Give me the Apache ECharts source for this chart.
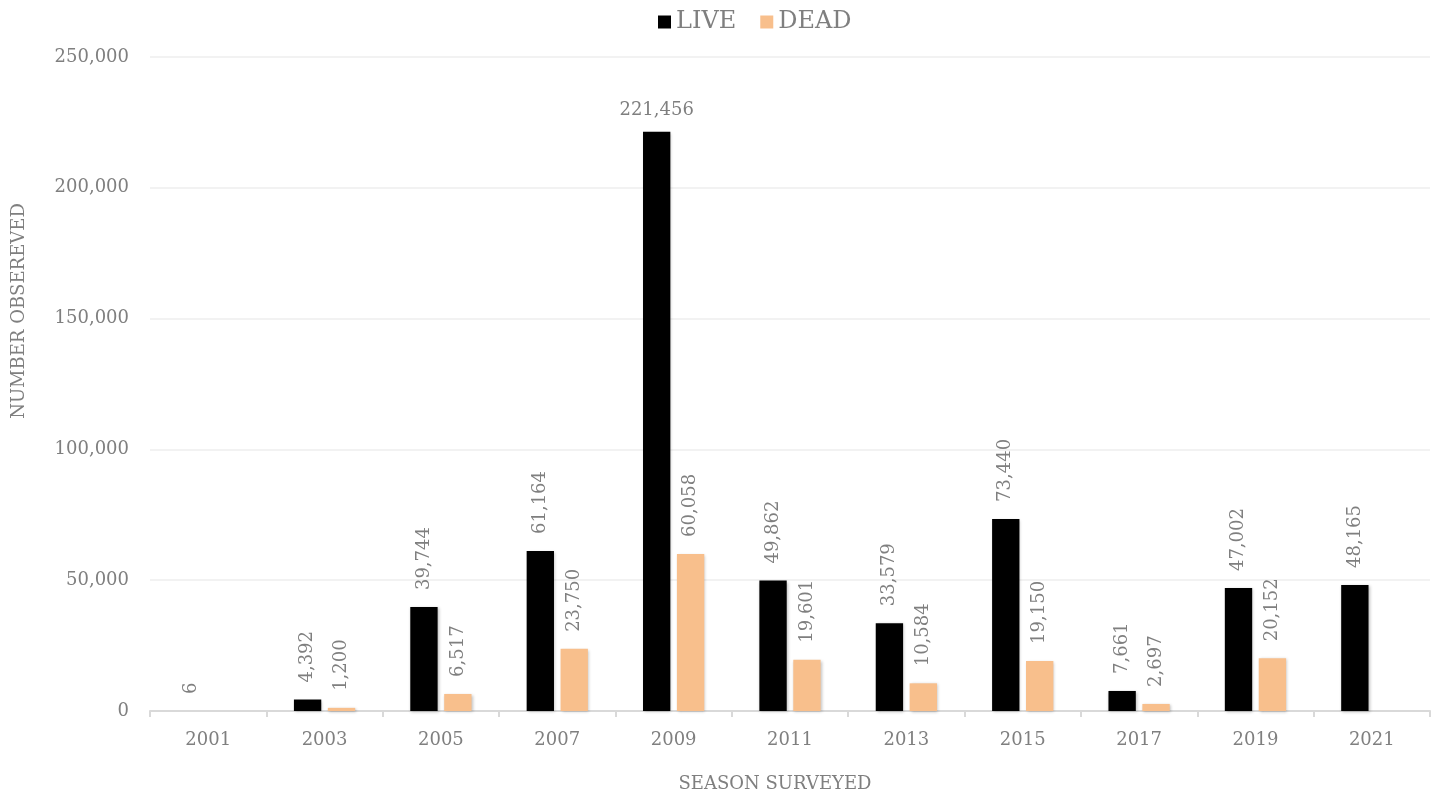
<!DOCTYPE html>
<html>
<head>
<meta charset="utf-8">
<script src="https://cdn.jsdelivr.net/npm/echarts@6/dist/echarts.min.js"></script>
<style>html,body{margin:0;padding:0;background:#fff;overflow:hidden}#chart{width:1442px;height:798px}</style>
</head>
<body>
<div id="chart"></div>
<script>
var seasons = ['2001','2003','2005','2007','2009','2011','2013','2015','2017','2019','2021'];
var liveValues = [6, 4392, 39744, 61164, 221456, 49862, 33579, 73440, 7661, 47002, 48165];
var deadValues = [null, 1200, 6517, 23750, 60058, 19601, 10584, 19150, 2697, 20152, null];
var yTicks = [0, 50000, 100000, 150000, 200000, 250000];

var FONT = '"DejaVu Serif", "Liberation Serif", serif';
var GRAY = '#7f7f7f';
function fmt(v){ return Number(v).toLocaleString('en-US'); }

var labelBase = {
  show: true, position: 'top', rotate: 90, align: 'left', verticalAlign: 'middle',
  distance: 17, color: GRAY, fontFamily: FONT, fontSize: 18,
  formatter: function(p){ return fmt(p.value); }
};

var liveData = liveValues.map(function(v){
  if (v > 150000) {
    return { value: v, label: { rotate: 0, align: 'center', verticalAlign: 'bottom', distance: 12 } };
  }
  return v;
});

var chart = echarts.init(document.getElementById('chart'), null, {renderer:'canvas'});
chart.setOption({
  animation: false,
  textStyle: { fontFamily: FONT },
  legend: {
    left: 653, top: 5, icon: 'rect',
    itemWidth: 13, itemHeight: 13, itemGap: 24,
    textStyle: { color: GRAY, fontFamily: FONT, fontSize: 24 },
    data: ['LIVE', 'DEAD']
  },
  grid: { left: 150, right: 12, top: 57, bottom: 84, containLabel: false },
  xAxis: {
    type: 'category', data: seasons,
    name: 'SEASON SURVEYED', nameLocation: 'middle', nameGap: 64,
    nameTextStyle: { color: GRAY, fontFamily: FONT, fontSize: 18, padding: [0, 30, 0, 0] },
    axisLine: { lineStyle: { color: '#d9d9d9', width: 2 } },
    axisTick: { show: true, length: 6, lineStyle: { color: '#d9d9d9', width: 2 } },
    axisLabel: { color: GRAY, fontFamily: FONT, fontSize: 18, margin: 20 }
  },
  yAxis: {
    type: 'value', min: 0, max: yTicks[yTicks.length-1], interval: yTicks[1]-yTicks[0],
    name: 'NUMBER OBSEREVED', nameLocation: 'middle', nameGap: 122,
    nameTextStyle: { color: GRAY, fontFamily: FONT, fontSize: 18, padding: [0, 0, 0, 146] },
    axisLine: { show: false }, axisTick: { show: false },
    axisLabel: { color: GRAY, fontFamily: FONT, fontSize: 18, margin: 21, formatter: function(v){ return fmt(v); } },
    splitLine: { lineStyle: { color: '#eeeeee', width: 1.5 } }
  },
  series: [
    {
      name: 'LIVE', type: 'bar', data: liveData,
      barWidth: '23.5%', barGap: '24%',
      itemStyle: { color: '#000000', shadowColor: 'rgba(0,0,0,0.25)', shadowBlur: 3, shadowOffsetX: 1, shadowOffsetY: 1 },
      label: labelBase
    },
    {
      name: 'DEAD', type: 'bar', data: deadValues,
      barWidth: '23.5%', barGap: '24%',
      itemStyle: { color: '#f8bf8c', shadowColor: 'rgba(0,0,0,0.25)', shadowBlur: 3, shadowOffsetX: 1, shadowOffsetY: 1 },
      label: labelBase
    }
  ]
});
</script>
</body>
</html>
